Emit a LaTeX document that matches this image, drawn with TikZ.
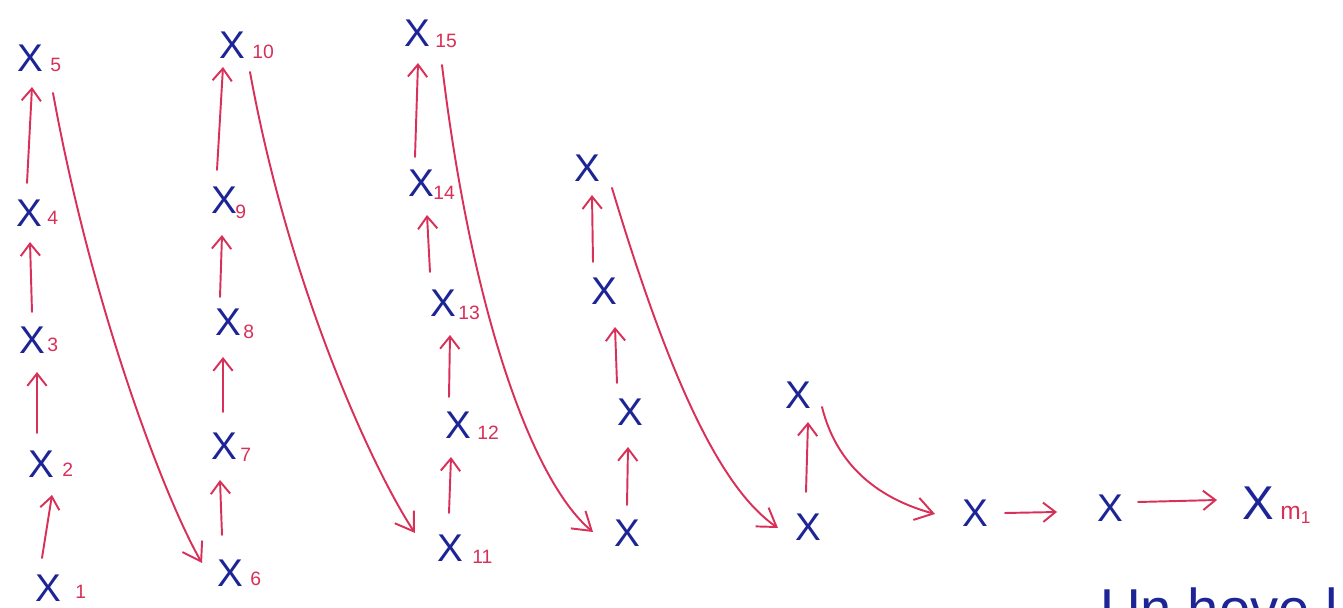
\documentclass[tikz,border=0pt]{standalone}
\usepackage{fontspec}
\setmainfont{Liberation Sans}
\usetikzlibrary{arrows.meta,calc}
\definecolor{inkblue}{RGB}{28,36,150}
\definecolor{inkred}{RGB}{216,48,88}
\newcommand\xsub[4]{\node[subl] (s#1) at ($(x#1)+(#2,#3)$) {#4};}
\begin{document}
\begin{tikzpicture}[x=0.02cm,y=-0.02cm,
  xmark/.style={inner sep=0pt, outer sep=0pt, text=inkblue, font=\fontsize{22}{22}\selectfont},
  subl/.style={inner sep=0pt, anchor=west, text=inkred, font=\fontsize{11}{11}\selectfont},
  uparr/.style={draw=inkred, line width=1.1pt, line cap=round, line join=round, -{Straight Barb[length=7pt,width=11pt]}},
  longarr/.style={draw=inkred, line width=1.1pt, line cap=round, line join=round, -{Straight Barb[length=10pt,width=13pt]}},
]
\useasboundingbox (0,0) rectangle (1343,608);
\fill[white] (0,0) rectangle (1343,608);

% column 1
\node[xmark] (x1) at (48,588) {X};
\node[xmark] (x2) at (41,464) {X};
\node[xmark] (x3) at (32,340) {X};
\node[xmark] (x4) at (29,213) {X};
\node[xmark] (x5) at (30,58) {X};
% column 2
\node[xmark] (x6) at (230,573) {X};
\node[xmark] (x7) at (224,446) {X};
\node[xmark] (x8) at (228,322) {X};
\node[xmark] (x9) at (224,200) {X};
\node[xmark] (x10) at (232,45) {X};
% column 3
\node[xmark] (x11) at (450,548) {X};
\node[xmark] (x12) at (458,425) {X};
\node[xmark] (x13) at (443,303) {X};
\node[xmark] (x14) at (421,183) {X};
\node[xmark] (x15) at (417,33) {X};
% column 4
\node[xmark] (xa) at (587,168) {X};
\node[xmark] (xb) at (604,291) {X};
\node[xmark] (xc) at (630,412) {X};
\node[xmark] (xd) at (627,533) {X};
% column 5
\node[xmark] (xe) at (798,395) {X};
\node[xmark] (xf) at (808,527) {X};
% last row
\node[xmark] (xg) at (975,513) {X};
\node[xmark] (xh) at (1110,508) {X};
\node[xmark, font=\fontsize{27}{27}\selectfont] (xm) at (1258,503) {X};

% subscripts
\xsub{1}{27}{4}{1}
\xsub{2}{21}{6}{2}
\xsub{3}{15}{5}{3}
\xsub{4}{18}{5}{4}
\xsub{5}{20}{7}{5}
\xsub{6}{20}{6}{6}
\xsub{7}{16}{9}{7}
\xsub{8}{15}{10}{8}
\xsub{9}{11}{12}{9}
\xsub{10}{20}{7}{10}
\xsub{11}{22}{9}{11}
\xsub{12}{19}{8}{12}
\xsub{13}{15}{10}{13}
\xsub{14}{12}{10}{14}
\xsub{15}{18}{8}{15}
\node[subl, font=\fontsize{14}{14}\selectfont] (sm) at ($(xm)+(22,12)$) {m\textsubscript{1}};

% upward arrows
\draw[uparr] ($(x1)+(-6,-30)$) -- ($(x2)+(11,31)$);
\draw[uparr] ($(x2)+(-4,-31)$) -- ($(x3)+(5,32)$);
\draw[uparr] ($(x3)+(0,-28)$) -- ($(x4)+(1,29)$);
\draw[uparr] ($(x4)+(-2,-30)$) -- ($(x5)+(2,29)$);
\draw[uparr] ($(x6)+(-8,-38)$) -- ($(x7)+(-4,34)$);
\draw[uparr] ($(x7)+(-1,-34)$) -- ($(x8)+(-5,35)$);
\draw[uparr] ($(x8)+(-8,-25)$) -- ($(x9)+(-2,35)$);
\draw[uparr] ($(x9)+(-7,-30)$) -- ($(x10)+(-9,22)$);
\draw[uparr] ($(x11)+(-1,-35)$) -- ($(x12)+(-7,32)$);
\draw[uparr] ($(x12)+(-9,-28)$) -- ($(x13)+(7,32)$);
\draw[uparr] ($(x13)+(-13,-31)$) -- ($(x14)+(6,32)$);
\draw[uparr] ($(x14)+(-6,-26)$) -- ($(x15)+(1,30)$);
\draw[uparr] ($(xd)+(0,-28)$) -- ($(xc)+(-2,35)$);
\draw[uparr] ($(xc)+(-13,-29)$) -- ($(xb)+(11,36)$);
\draw[uparr] ($(xb)+(-11,-29)$) -- ($(xa)+(5,27)$);
\draw[uparr] ($(xf)+(-2,-35)$) -- ($(xe)+(10,27)$);

% long descending arrows
\draw[longarr] ($(x5)+(23,35)$) .. controls +(40,220) and +(-35,-60) .. ($(x6)+(-28,-10)$);
\draw[longarr] ($(x10)+(18,27)$) .. controls +(40,220) and +(-40,-60) .. ($(x11)+(-35,-15)$);
\draw[longarr] ($(x15)+(25,32)$) .. controls +(30,250) and +(-60,-50) .. ($(xd)+(-34,-1)$);
\draw[longarr] ($(xa)+(25,20)$) .. controls +(60,200) and +(-55,-38) .. ($(xf)+(-30,1)$);
\draw[longarr] ($(xe)+(24,12)$) .. controls +(15,60) and +(-55,-15) .. ($(xg)+(-40,1)$);

% horizontal arrows
\draw[uparr] ($(xg)+(30,0)$) -- ($(xh)+(-53,4)$);
\draw[uparr] ($(xh)+(28,-6)$) -- ($(xm)+(-41,-3)$);

% cut-off handwriting at the bottom edge
\begin{scope}
\clip (0,0) rectangle (1343,608);
\node[anchor=base west, inner sep=0pt, text=inkblue, font=\fontsize{32}{32}\selectfont] (cut) at (1100,628) {Un hove l};
\end{scope}
\end{tikzpicture}
\end{document}
